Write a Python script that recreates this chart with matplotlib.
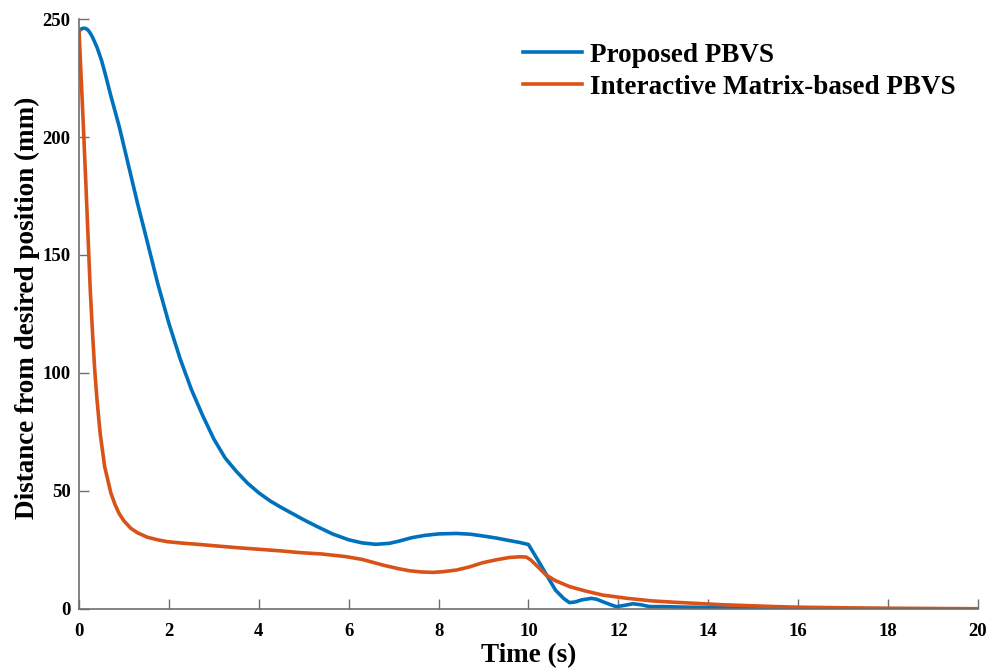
import matplotlib
matplotlib.use("Agg")
import matplotlib.pyplot as plt

# Proposed PBVS (blue)
t_proposed = [0, 0.05, 0.1, 0.15, 0.2, 0.25, 0.3, 0.4, 0.5, 0.6, 0.7, 0.9, 1.1, 1.3,
              1.5, 1.75, 2.0, 2.25, 2.5, 2.75, 3.0, 3.25, 3.5, 3.75, 4.0, 4.25, 4.5,
              4.75, 5.0, 5.3, 5.64, 6.0, 6.3, 6.6, 6.9, 7.13, 7.4, 7.7, 8.0, 8.4,
              8.7, 9.0, 9.3, 9.57, 9.8, 10.0, 10.2, 10.36, 10.6, 10.78, 10.91, 11.05,
              11.17, 11.4, 11.52, 11.65, 11.8, 11.95, 12.1, 12.32, 12.5, 12.69, 13.0,
              13.4, 13.8, 14.5, 16, 18, 20]
d_proposed = [244.8, 245.8, 246.1, 246, 245.3, 244, 242.3, 238, 232.5, 225.5, 218, 204,
              188, 172, 157, 138, 121, 106, 93, 82, 72, 64, 58.3, 53.3, 49.2, 45.8, 43.0,
              40.4, 37.8, 34.9, 31.8, 29.3, 28.0, 27.4, 27.8, 28.8, 30.2, 31.2, 31.8, 32,
              31.7, 30.9, 30, 29, 28.2, 27.3, 21, 15.8, 8, 4.5, 2.7, 3.0,
              3.8, 4.5, 4.1, 3.1, 2.0, 1.0, 1.4, 2.2, 1.8, 1.0, 1.0,
              0.8, 0.7, 0.4, 0.2, 0.1, 0.05]

# Interactive Matrix-based PBVS (orange)
t_matrix = [0, 0.05, 0.1, 0.15, 0.2, 0.25, 0.3, 0.35, 0.4, 0.47, 0.57, 0.71, 0.8, 0.89,
            1.0, 1.15, 1.3, 1.52, 1.75, 1.97, 2.3, 2.64, 3.0, 3.5, 4.0, 4.5, 4.9, 5.4,
            5.93, 6.3, 6.76, 7.1, 7.35, 7.6, 7.87, 8.1, 8.4, 8.7, 8.98, 9.3, 9.57, 9.8,
            9.95, 10.05, 10.17, 10.39, 10.6, 10.91, 11.27, 11.65, 12.2, 12.76, 13.2,
            13.8, 14.3, 14.9, 15.5, 16, 17, 18, 19, 20]
d_matrix = [245, 224, 203, 181, 158, 135, 117, 101, 88.6, 74.4, 60.3, 49, 44.3, 40.5,
            37.3, 34.2, 32.3, 30.4, 29.3, 28.5, 27.9, 27.4, 26.8, 26.0, 25.3, 24.6, 23.9, 23.3,
            22.2, 21, 18.6, 17.1, 16.2, 15.7, 15.5, 15.8, 16.5, 17.9, 19.6, 20.9, 21.8, 22.1,
            22.0, 20.8, 18.6, 14.4, 12.0, 9.5, 7.6, 5.9, 4.5, 3.4, 2.9,
            2.3, 1.8, 1.4, 1.0, 0.75, 0.5, 0.3, 0.2, 0.1]

x_ticks = list(range(0, 21, 2))
y_ticks = list(range(0, 251, 50))

plt.rcParams['font.family'] = ['Liberation Serif', 'DejaVu Serif']
plt.rcParams['font.weight'] = 'bold'

fig = plt.figure(figsize=(10.03, 6.72), dpi=100)
ax = fig.add_axes([0.0788, 0.0938, 0.8962, 0.8779])

ax.plot(t_proposed, d_proposed, color='#0072BD', lw=2.6, label='Proposed PBVS')
ax.plot(t_matrix, d_matrix, color='#D95319', lw=2.6, label='Interactive Matrix-based PBVS')

ax.set_xlim(0, 20)
ax.set_ylim(0, 250)
ax.set_xticks(x_ticks)
ax.set_yticks(y_ticks)
ax.spines['top'].set_visible(False)
ax.spines['right'].set_visible(False)
for s in ('left', 'bottom'):
    ax.spines[s].set_color('#6e6e6e')
    ax.spines[s].set_linewidth(1.2)
ax.tick_params(direction='in', length=7, width=1, color='#6e6e6e', labelsize=13.5)
ax.tick_params(axis='x', pad=10)
ax.tick_params(axis='y', pad=6)
for lab in ax.get_xticklabels() + ax.get_yticklabels():
    lab.set_fontweight('bold')

ax.set_xlabel('Time (s)', fontsize=19.5, fontweight='bold', labelpad=2)
ax.set_ylabel('Distance from desired position (mm)', fontsize=19.5, fontweight='bold')
ax.yaxis.set_label_coords(-0.043, 0.51)

leg = ax.legend(loc='upper right', frameon=False, fontsize=19.5,
                handlelength=2.2, handletextpad=0.28, labelspacing=0.26,
                borderaxespad=0, bbox_to_anchor=(0.987, 0.978))
for txt in leg.get_texts():
    txt.set_fontweight('bold')

fig.savefig('out.png', dpi=100)
